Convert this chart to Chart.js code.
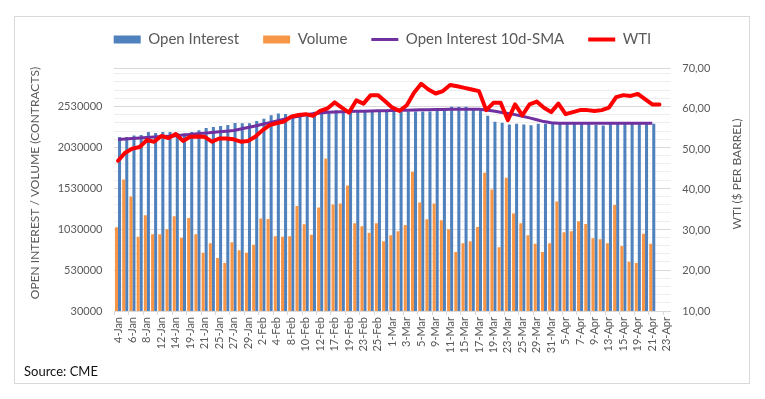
<!DOCTYPE html>
<html>
<head>
<meta charset="utf-8">
<script src="https://cdn.jsdelivr.net/npm/chart.js@4.4.0/dist/chart.umd.min.js"></script>
<style>
  html, body { margin: 0; padding: 0; background: #fff; }
  #wrap { position: relative; width: 765px; height: 399px; }
</style>
</head>
<body>
<div id="wrap"><canvas id="chart" width="765" height="399"></canvas></div>
<script>
// trading days, Jan - Apr
const dates = [
  '4-Jan','5-Jan','6-Jan','7-Jan','8-Jan','11-Jan','12-Jan','13-Jan','14-Jan','15-Jan',
  '19-Jan','20-Jan','21-Jan','22-Jan','25-Jan','26-Jan','27-Jan','28-Jan','29-Jan',
  '1-Feb','2-Feb','3-Feb','4-Feb','5-Feb','8-Feb','9-Feb','10-Feb','11-Feb','12-Feb',
  '16-Feb','17-Feb','18-Feb','19-Feb','22-Feb','23-Feb','24-Feb','25-Feb','26-Feb',
  '1-Mar','2-Mar','3-Mar','4-Mar','5-Mar','8-Mar','9-Mar','10-Mar','11-Mar','12-Mar',
  '15-Mar','16-Mar','17-Mar','18-Mar','19-Mar','22-Mar','23-Mar','24-Mar','25-Mar','26-Mar',
  '29-Mar','30-Mar','31-Mar',
  '1-Apr','5-Apr','6-Apr','7-Apr','8-Apr','9-Apr','12-Apr','13-Apr','14-Apr','15-Apr','16-Apr',
  '19-Apr','20-Apr','21-Apr','22-Apr','23-Apr'
]

const openInterest = [
  2157000, 2157000, 2174000, 2182000, 2218000, 2206000, 2218000, 2218000, 2206000, 2198000,
  2218000, 2239000, 2267000, 2279000, 2291000, 2303000, 2327000, 2324000, 2324000,
  2352000, 2381000, 2421000, 2445000, 2437000, 2429000, 2430000, 2435000, 2465000, 2449000,
  2469000, 2485000, 2477000, 2449000, 2461000, 2461000, 2461000, 2469000, 2469000,
  2469000, 2461000, 2469000, 2469000, 2469000, 2469000, 2477000, 2485000, 2526000, 2526000,
  2526000, 2509000, 2477000, 2417000, 2344000, 2332000, 2308000, 2320000, 2308000, 2299000,
  2320000, 2320000, 2332000,
  2332000, 2320000, 2318000, 2320000, 2315000, 2305000, 2298000, 2318000, 2320000, 2318000, 2320000,
  2318000, 2320000, 2320000, null, null
]

const volume = [
  1053000, 1636000, 1429000, 936000, 1199000, 968000, 968000, 1029000, 1187000, 924000,
  1167000, 968000, 742000, 859000, 677000, 616000, 871000, 774000, 742000,
  839000, 1162000, 1155000, 944000, 936000, 944000, 1313000, 1090000, 961000, 1296000,
  1895000, 1332000, 1344000, 1563000, 1102000, 1065000, 985000, 1102000, 883000,
  956000, 1005000, 1082000, 1733000, 1357000, 1150000, 1344000, 1138000, 1029000, 750000,
  859000, 883000, 1058000, 1721000, 1514000, 810000, 1660000, 1223000, 1102000, 956000,
  852000, 750000, 859000,
  1369000, 993000, 1005000, 1126000, 1094000, 920000, 907000, 859000, 1325000, 823000, 633000,
  616000, 973000, 852000, null, null
]

const oiSma10 = [
  2126000, 2132000, 2138000, 2144000, 2150000, 2156000, 2162000, 2167000, 2172000, 2180000,
  2188000, 2196000, 2204000, 2212000, 2220000, 2228000, 2236000, 2254000, 2272000,
  2292000, 2312000, 2332000, 2352000, 2374000, 2394000, 2410000, 2428000, 2441000, 2451000,
  2459000, 2463000, 2466000, 2468000, 2470000, 2472000, 2474000, 2477000, 2479000,
  2481000, 2483000, 2485000, 2487000, 2489000, 2491000, 2493000, 2494000, 2495000, 2496000,
  2497000, 2497000, 2495000, 2487000, 2474000, 2460000, 2445000, 2430000, 2410000, 2390000,
  2368000, 2345000, 2330000,
  2326000, 2326000, 2325000, 2325000, 2325000, 2325000, 2325000, 2325000, 2325000, 2325000, 2325000,
  2325000, 2325000, 2325000, null, null
]

const wti = [
  47.1, 49.1, 50.1, 50.5, 52.2, 51.8, 53.2, 52.7, 53.7, 52.0,
  53.0, 53.1, 53.0, 51.8, 52.6, 52.6, 52.4, 51.8, 52.0,
  53.0, 54.6, 55.9, 56.4, 56.8, 58.0, 58.4, 58.6, 58.2, 59.4,
  60.0, 61.5, 60.2, 59.0, 62.0, 61.2, 63.3, 63.3, 61.8,
  60.2, 59.4, 60.8, 63.9, 66.1, 64.7, 63.7, 64.3, 65.8, 65.5,
  65.1, 64.7, 64.3, 59.6, 61.4, 61.4, 57.1, 61.0, 58.3, 61.0,
  61.7, 60.2, 59.1,
  61.2, 58.6, 59.1, 59.6, 59.6, 59.4, 59.6, 60.2, 62.8, 63.3, 63.1,
  63.6, 62.3, 61.0, 61.0, null
]

const leftTicks = [30000, 530000, 1030000, 1530000, 2030000, 2530000]
const rightTicks = [10, 20, 30, 40, 50, 60, 70]

const textGray = '#595959'
const fontFamily = 'Lato, "Open Sans", sans-serif'

// minor gridlines every 100000 contracts, labels only on leftTicks
let gridValues = []
for (let v = 30000; v < 3000000; v += 100000) gridValues.push(v)
gridValues.push(3000000)

const framePlugin = {
  id: 'frame',
  beforeLayout(chart) {
    // leave a gap under the legend, like the original
    const legend = chart.legend
    if (legend && !legend._padded) {
      const fit = legend.fit
      legend.fit = function () {
        fit.call(this)
        this.height += 11
      }
      legend._padded = true
    }
  },
  beforeDraw(chart) {
    const ctx = chart.ctx
    ctx.save()
    ctx.fillStyle = '#fff'
    ctx.fillRect(0, 0, chart.width, chart.height)
    ctx.strokeStyle = '#d9d9d9'
    ctx.lineWidth = 1
    ctx.strokeRect(14.5, 16.5, 735, 367)
    ctx.restore()
  },
  afterDraw(chart) {
    const ctx = chart.ctx
    ctx.save()
    ctx.fillStyle = textGray
    ctx.font = '12px ' + fontFamily
    ctx.textAlign = 'center'
    ctx.textBaseline = 'middle'

    ctx.translate(35, 183)
    ctx.rotate(-Math.PI / 2)
    ctx.fillText('OPEN INTEREST / VOLUME (CONTRACTS)', 0, 0)
    ctx.setTransform(1, 0, 0, 1, 0, 0)

    ctx.translate(737, 174)
    ctx.rotate(-Math.PI / 2)
    ctx.fillText('WTI ($ PER BARREL)', 0, 0)
    ctx.setTransform(1, 0, 0, 1, 0, 0)

    ctx.fillStyle = '#111'
    ctx.font = '13px ' + fontFamily
    ctx.textAlign = 'left'
    ctx.fillText('Source: CME', 24, 372)
    ctx.restore()
  }
}

new Chart(document.getElementById('chart'), {
  type: 'bar',
  data: {
    labels: dates,
    datasets: [
      { label: 'Open Interest', data: openInterest, backgroundColor: '#4f81bd', borderWidth: 0,
        yAxisID: 'y', order: 4, pointStyle: 'rect', categoryPercentage: 0.84, barPercentage: 1 },
      { label: 'Volume', data: volume, backgroundColor: '#f79646', borderWidth: 0,
        yAxisID: 'y', order: 3, pointStyle: 'rect', categoryPercentage: 0.84, barPercentage: 1 },
      { type: 'line', label: 'Open Interest 10d-SMA', data: oiSma10, borderColor: '#7030a0',
        backgroundColor: '#7030a0', borderWidth: 3, pointRadius: 0, yAxisID: 'y', order: 2,
        pointStyle: 'line', borderJoinStyle: 'round' },
      { type: 'line', label: 'WTI', data: wti, borderColor: '#ff0000', backgroundColor: '#ff0000',
        borderWidth: 4, pointRadius: 0, yAxisID: 'y1', order: 1, pointStyle: 'line',
        borderJoinStyle: 'round', borderCapStyle: 'round' }
    ]
  },
  options: {
    responsive: false,
    animation: false,
    layout: { padding: { top: 8, left: 0, right: 0, bottom: 0 } },
    plugins: {
      tooltip: { enabled: false },
      legend: {
        position: 'top',
        labels: {
          usePointStyle: true,
          pointStyleWidth: 27,
          boxHeight: 8,
          padding: 24,
          color: textGray,
          font: { family: fontFamily, size: 15 },
          sort: (a, b) => a.datasetIndex - b.datasetIndex
        }
      }
    },
    scales: {
      x: {
        offset: true,
        grid: {
          offset: true,
          drawOnChartArea: false,
          tickLength: 4,
          tickColor: c => (c.index % 2 === 0 ? '#d9d9d9' : 'rgba(0,0,0,0)')
        },
        border: { color: '#d9d9d9' },
        ticks: {
          autoSkip: false,
          minRotation: 90,
          maxRotation: 90,
          padding: 2,
          color: textGray,
          font: { family: fontFamily, size: 11 },
          callback: function (v, i) { return i % 2 === 0 ? this.getLabelForValue(v) : '' }
        },
        afterFit: s => { s.height = 88 }
      },
      y: {
        position: 'left',
        min: 30000,
        max: 3000000,
        afterBuildTicks: s => { s.ticks = gridValues.map(v => ({ value: v })) },
        ticks: {
          autoSkip: false,
          padding: 12,
          color: textGray,
          font: { family: fontFamily, size: 11 },
          callback: v => (leftTicks.includes(v) ? String(v) : '')
        },
        grid: {
          drawTicks: false,
          color: c => (leftTicks.includes(c.tick.value) || c.tick.value === 3000000 ? '#d9d9d9' : '#eeeeee')
        },
        border: { display: false },
        afterFit: s => { s.width = 114.4 }
      },
      y1: {
        position: 'right',
        min: 10,
        max: 70,
        afterBuildTicks: s => { s.ticks = rightTicks.map(v => ({ value: v })) },
        ticks: {
          autoSkip: false,
          padding: 12,
          color: textGray,
          font: { family: fontFamily, size: 11 },
          callback: v => v.toFixed(2).replace('.', ',')
        },
        grid: { drawOnChartArea: false, drawTicks: false },
        border: { display: false },
        afterFit: s => { s.width = 94.7 }
      }
    }
  },
  plugins: [framePlugin]
})
</script>
</body>
</html>
